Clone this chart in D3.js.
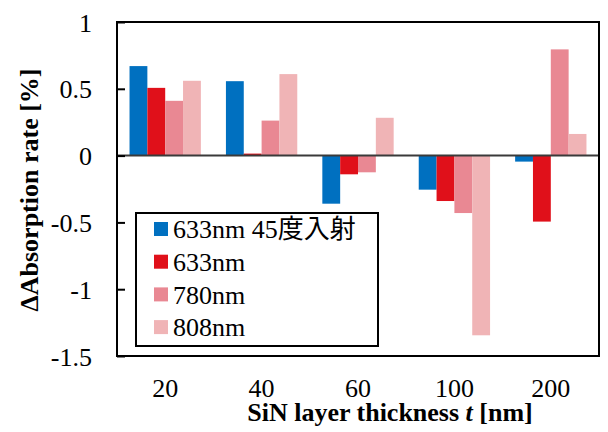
<!DOCTYPE html>
<html>
<head>
<meta charset="utf-8">
<script src="https://cdn.jsdelivr.net/npm/d3@7"></script>
<style>
  body { margin: 0; background: #fff; }
</style>
</head>
<body>
<div id="chart"></div>
<script>
// categories: SiN layer thickness
const thickness = ["20", "40", "60", "100", "200"];

// series names and values
const seriesNames = ["633nm 45度入射", "633nm", "780nm", "808nm"];
const s633deg45 = [0.67, 0.557, -0.36, -0.255, -0.045];
const s633 = [0.507, 0.015, -0.14, -0.34, -0.494];
const s780 = [0.41, 0.262, -0.125, -0.43, 0.795];
const s808 = [0.56, 0.61, 0.283, -1.345, 0.162];
const seriesColors = ["#0070c0", "#e0101a", "#e98893", "#f0b4b6"];

const yTicks = [1, 0.5, 0, -0.5, -1, -1.5];
const yTickLabels = ["1", "0.5", "0", "-0.5", "-1", "-1.5"];

const allSeries = [s633deg45, s633, s780, s808];

const FONT = "'Liberation Serif', 'Times New Roman', Tinos, 'DejaVu Serif', 'Noto Sans CJK JP', serif";

const W = 608, H = 432;
const plotLeft = 117, plotRight = 599, plotTop = 22, plotBottom = 356;

const svg = d3.select("#chart")
    .append("svg")
    .attr("width", W)
    .attr("height", H)
    .style("font-family", FONT);

const x0 = d3.scaleBand()
    .domain(thickness)
    .range([plotLeft, plotRight])
    .paddingInner(0.26)
    .paddingOuter(0.13);

const x1 = d3.scaleBand()
    .domain(d3.range(seriesNames.length))
    .range([0, x0.bandwidth()]);

const y = d3.scaleLinear()
    .domain([-1.5, 1])
    .range([plotBottom, plotTop]);

// bars
for (let s = 0; s < allSeries.length; s++) {
    svg.append("g")
        .selectAll("rect")
        .data(allSeries[s])
        .join("rect")
        .attr("x", (d, i) => x0(thickness[i]) + x1(s))
        .attr("width", x1.bandwidth())
        .attr("y", d => y(Math.max(0, d)))
        .attr("height", d => Math.abs(y(d) - y(0)))
        .style("fill", seriesColors[s]);
}

// zero line
svg.append("line")
    .attr("x1", plotLeft).attr("x2", plotRight)
    .attr("y1", y(0)).attr("y2", y(0))
    .attr("stroke", "#3a3a3a")
    .attr("stroke-width", 2);

// y axis, ticks inward
const yAxis = d3.axisLeft(y)
    .tickValues(yTicks)
    .tickSize(-8)
    .tickFormat((d, i) => yTickLabels[i]);

const gy = svg.append("g")
    .attr("transform", "translate(" + plotLeft + ",0)")
    .call(yAxis)
    .attr("font-family", null);
gy.select(".domain").remove();
gy.selectAll(".tick line").attr("stroke", "#000").attr("stroke-width", 2);
gy.selectAll(".tick text")
    .attr("x", -25)
    .attr("dy", "0.35em")
    .style("font-family", FONT)
    .style("font-size", "26px")
    .style("fill", "#000");

// x axis labels
const xAxis = d3.axisBottom(x0).tickSize(0);
const gx = svg.append("g")
    .attr("transform", "translate(0," + plotBottom + ")")
    .call(xAxis)
    .attr("font-family", null);
gx.select(".domain").remove();
gx.selectAll(".tick text")
    .attr("y", 32)
    .attr("dy", "0.35em")
    .style("font-family", FONT)
    .style("font-size", "26px")
    .style("fill", "#000");

// frame
svg.append("rect")
    .attr("x", plotLeft).attr("y", plotTop)
    .attr("width", plotRight - plotLeft).attr("height", plotBottom - plotTop)
    .attr("fill", "none")
    .attr("stroke", "#000")
    .attr("stroke-width", 2);

// axis titles
const xt = svg.append("text")
    .attr("x", 390).attr("y", 421)
    .attr("text-anchor", "middle")
    .style("font-family", FONT)
    .style("font-size", "26px")
    .style("font-weight", "bold");
xt.append("tspan").text("SiN layer thickness ");
xt.append("tspan").style("font-style", "italic").text("t");
xt.append("tspan").text(" [nm]");

svg.append("text")
    .attr("transform", "translate(38,190) rotate(-90)")
    .attr("text-anchor", "middle")
    .style("font-family", FONT)
    .style("font-size", "26px")
    .style("font-weight", "bold")
    .text("ΔAbsorption rate [%]");

// legend
const legend = svg.append("g");
legend.append("rect")
    .attr("x", 136).attr("y", 213)
    .attr("width", 242).attr("height", 133)
    .attr("fill", "#fff")
    .attr("stroke", "#000")
    .attr("stroke-width", 2);

const rowH = 32.7;
const items = legend.selectAll("g.item")
    .data(seriesNames)
    .join("g")
    .attr("class", "item")
    .attr("transform", (d, i) => "translate(154," + (229 + i * rowH) + ")");
items.append("rect")
    .attr("x", 0).attr("y", -7)
    .attr("width", 14).attr("height", 14)
    .style("fill", (d, i) => seriesColors[i]);
items.append("text")
    .attr("x", 19)
    .attr("dy", "0.35em")
    .style("font-family", FONT)
    .style("font-size", "26px")
    .text(d => d);
</script>
</body>
</html>
